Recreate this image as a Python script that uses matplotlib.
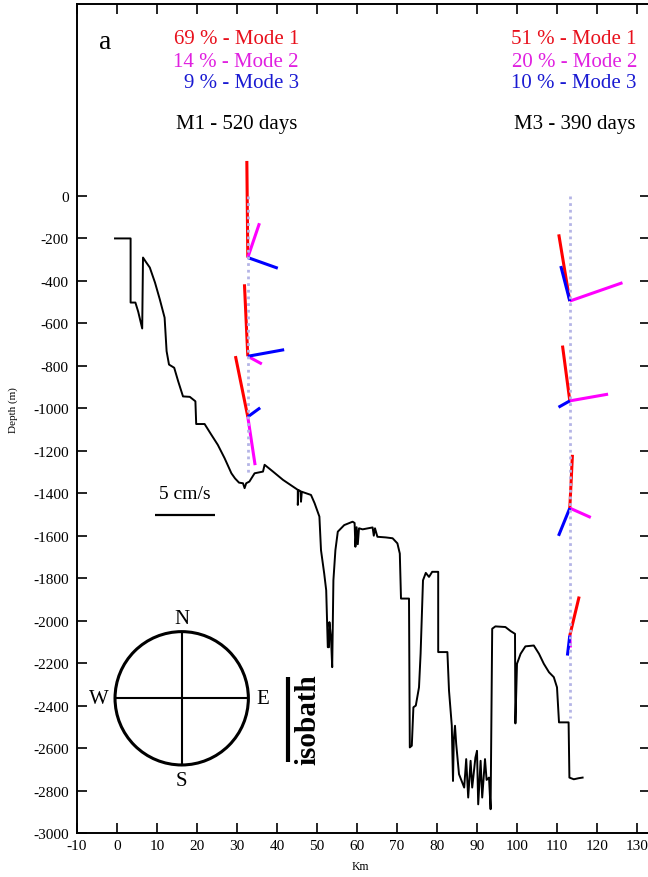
import matplotlib
matplotlib.use("Agg")
import matplotlib.pyplot as plt
from matplotlib.patches import Circle

plt.rcParams["font.family"] = ["Liberation Serif", "DejaVu Serif"]
plt.rcParams["axes.unicode_minus"] = False

# bathymetry along the section (km, depth in m)
bathy_km = [
    -0.5, 3.4, 3.4, 4.6, 5.3, 6.3, 6.5, 7.2, 8.2, 9.5, 10.7, 11.9, 12.4, 13.0,
    14.3, 15.3, 16.5, 18.2, 19.6, 19.8, 21.9, 23.6, 25.2, 26.9, 28.6, 29.5,
    30.5, 31.5, 31.9, 32.3, 33.1, 34.4, 36.5, 36.9, 37.5, 39.0, 41.5, 44.0,
    45.2, 45.2, 45.4, 46.0, 46.0, 46.2, 48.5, 49.4, 50.6, 51.0, 51.8, 52.3,
    52.7, 53.0, 53.1, 53.5, 53.8, 54.1, 54.6, 55.2, 56.8, 58.9, 59.4, 59.6,
    59.9, 60.2, 60.5, 61.4, 63.9, 64.2, 64.5, 65.1, 67.2, 68.9, 70.1, 70.7,
    71.0, 73.0, 73.2, 73.7, 74.1, 74.7, 75.5, 75.9, 76.5, 77.2, 78.0, 78.8,
    80.3, 80.3, 82.6, 83.0, 83.7, 84.0, 84.2, 84.5, 84.8, 85.5, 86.8, 87.3,
    87.8, 88.4, 88.8, 89.6, 90.0, 90.3, 90.9, 91.3, 92.0, 92.4, 93.0, 93.4,
    93.8, 94.6, 97.1, 98.4, 99.5, 99.6, 100.0, 100.9, 102.1, 104.2, 105.5,
    106.7, 108.0, 109.2, 110.0, 110.5, 112.9, 113.1, 114.2, 115.4, 116.4,
]
bathy_depth = [
    -200, -200, -502, -502, -545, -624, -290, -310, -337, -408, -487, -573,
    -731, -794, -809, -873, -944, -946, -967, -1074, -1074, -1125, -1172,
    -1235, -1306, -1330, -1350, -1353, -1376, -1353, -1345, -1306, -1298,
    -1266, -1275, -1298, -1337, -1369, -1384, -1455, -1385, -1392, -1440,
    -1393, -1408, -1447, -1510, -1668, -1778, -1857, -2125, -2125, -2007,
    -2080, -2219, -1810, -1668, -1581, -1550, -1534, -1540, -1652, -1560,
    -1640, -1565, -1570, -1561, -1600, -1565, -1605, -1608, -1612, -1636,
    -1684, -1896, -1896, -2597, -2589, -2408, -2400, -2314, -2156, -1810,
    -1775, -1794, -1770, -1770, -2148, -2148, -2329, -2495, -2755, -2560,
    -2495, -2581, -2723, -2786, -2652, -2833, -2660, -2786, -2645, -2613,
    -2865, -2660, -2833, -2652, -2750, -2739, -2888, -2038, -2027, -2030,
    -2049, -2062, -2484, -2203, -2156, -2121, -2117, -2156, -2203, -2243,
    -2266, -2314, -2479, -2479, -2739, -2747, -2742, -2739,
]

mooring_names = ["M1", "M3"]
mooring_km = [32.7, 113.2]
mooring_bottom = [-1320, -2460]
mooring_days = [520, 390]

mode_pct_m1 = [69, 14, 9]
mode_pct_m3 = [51, 20, 10]

# current vectors: (east, north) in cm/s at each depth
m1_depths = [-290, -755, -1040]
m1_mode1 = [(-0.08, 8.05), (-0.28, 6.0), (-1.03, 5.06)]
m1_mode2 = [(0.97, 2.86), (1.17, -0.64), (0.61, -4.03)]
m1_mode3 = [(2.5, -0.89), (3.03, 0.55), (1.03, 0.75)]

m3_depths = [-495, -965, -1470, -2070]
m3_mode1 = [(-0.92, 5.56), (-0.61, 4.61), (0.22, 4.44), (0.78, 3.25)]
m3_mode2 = [(4.39, 1.53), (3.19, 0.56), (1.75, -0.78), (0.05, -1.0)]
m3_mode3 = [(-0.75, 2.92), (-0.94, -0.53), (-0.94, -2.31), (-0.2, -1.67)]

scale_speed = 5  # cm/s

mode_colors = ["#ff0000", "#ff00ff", "#0000ff"]
text_colors = ["#e8101c", "#e020e0", "#1a1ad2"]

XMIN, XMAX = -10, 133.25
YMIN, YMAX = -3000, 904
AX_W, AX_H = 573, 829
PX_PER_CMS = 12

fig = plt.figure(figsize=(6.48, 8.78), dpi=100)
ax = fig.add_axes([77 / 648, 44 / 878, AX_W / 648, AX_H / 878])
ax.set_xlim(XMIN, XMAX)
ax.set_ylim(YMIN, YMAX)

km_per_px = (XMAX - XMIN) / AX_W
m_per_px = (YMAX - YMIN) / AX_H


def draw_vectors(x0, depths, modes):
    for mode, color in zip(modes, mode_colors):
        for d, (u, v) in zip(depths, mode):
            ax.plot(
                [x0, x0 + u * PX_PER_CMS * km_per_px],
                [d, d + v * PX_PER_CMS * m_per_px],
                color=color,
                lw=2.2,
                solid_capstyle="butt",
                zorder=3,
            )


ax.plot(bathy_km, bathy_depth, color="black", lw=1.4, zorder=2)

draw_vectors(mooring_km[0], m1_depths, [m1_mode1, m1_mode2, m1_mode3])
draw_vectors(mooring_km[1], m3_depths, [m3_mode1, m3_mode2, m3_mode3])

for x0, bottom in zip(mooring_km, mooring_bottom):
    ax.plot(
        [x0, x0],
        [0, bottom],
        color="#b4b4e6",
        lw=2,
        linestyle=(0, (1, 1.4)),
        zorder=4,
    )

# text blocks above the moorings
rows_y = [0.9578, 0.9312, 0.9059]
for x_right, pcts, name, days in zip(
    [0.3874, 0.9773],
    [mode_pct_m1, mode_pct_m3],
    mooring_names,
    mooring_days,
):
    for i, (p, c) in enumerate(zip(pcts, text_colors)):
        ax.text(x_right, rows_y[i], f"{p} % - Mode {i + 1}", color=c,
                fontsize=15, ha="right", va="center", transform=ax.transAxes)
    ax.text(x_right - 0.002, 0.8553, f"{name} - {days} days", fontsize=15,
            ha="right", va="center", transform=ax.transAxes)

ax.text(0.0489, 0.9542, "a", fontsize=20, ha="center", va="center",
        transform=ax.transAxes)

# speed scale bar
bar_x0, bar_y = 9.5, -1503
ax.plot(
    [bar_x0, bar_x0 + scale_speed * PX_PER_CMS * km_per_px],
    [bar_y, bar_y],
    color="black",
    lw=1.6,
    solid_capstyle="butt",
)
ax.text(bar_x0 + scale_speed * PX_PER_CMS * km_per_px / 2, -1403,
        f"{scale_speed} cm/s", fontsize=14, ha="center", va="center")

# isobath marker
ax.plot([0.3688, 0.3688], [0.0856, 0.1882], color="black", lw=3,
        solid_capstyle="butt", transform=ax.transAxes)
ax.text(0.403, 0.1375, "isobath", rotation=90, fontsize=21, fontweight="bold",
        ha="center", va="center", transform=ax.transAxes)

ax.set_xticks(range(-10, 131, 10))
ax.set_yticks(range(-3000, 1, 200))
ax.tick_params(direction="in", top=True, right=True, length=7, width=1.2,
               labelsize=11)
ax.tick_params(axis="y", pad=6)
ax.tick_params(axis="x", pad=4)
for spine in ax.spines.values():
    spine.set_linewidth(1.4)

ax.set_xlabel("Km", fontsize=8.5)
ax.xaxis.set_label_coords(0.494, -0.033)
ax.set_ylabel("Depth (m)", fontsize=8)
ax.yaxis.set_label_coords(-0.103, 0.511)

# compass rose
cx, cy = 181.7, 699.3
cax = fig.add_axes([(cx - 100) / 648, (878 - cy - 100) / 878, 200 / 648, 200 / 878])
cax.set_xlim(-1.5, 1.5)
cax.set_ylim(-1.5, 1.5)
cax.axis("off")
cax.add_patch(Circle((0, 0), 1.0, fill=False, lw=2.2, ec="black"))
cax.plot([-1, 1], [0, 0], color="black", lw=1.5)
cax.plot([0, 0], [-1, 1], color="black", lw=1.5)
for label, lx, ly in [("N", 0, 1.2), ("S", 0, -1.24), ("W", -1.25, 0), ("E", 1.21, 0)]:
    cax.text(lx, ly, label, fontsize=15, ha="center", va="center")

fig.savefig("out.png", dpi=100)
